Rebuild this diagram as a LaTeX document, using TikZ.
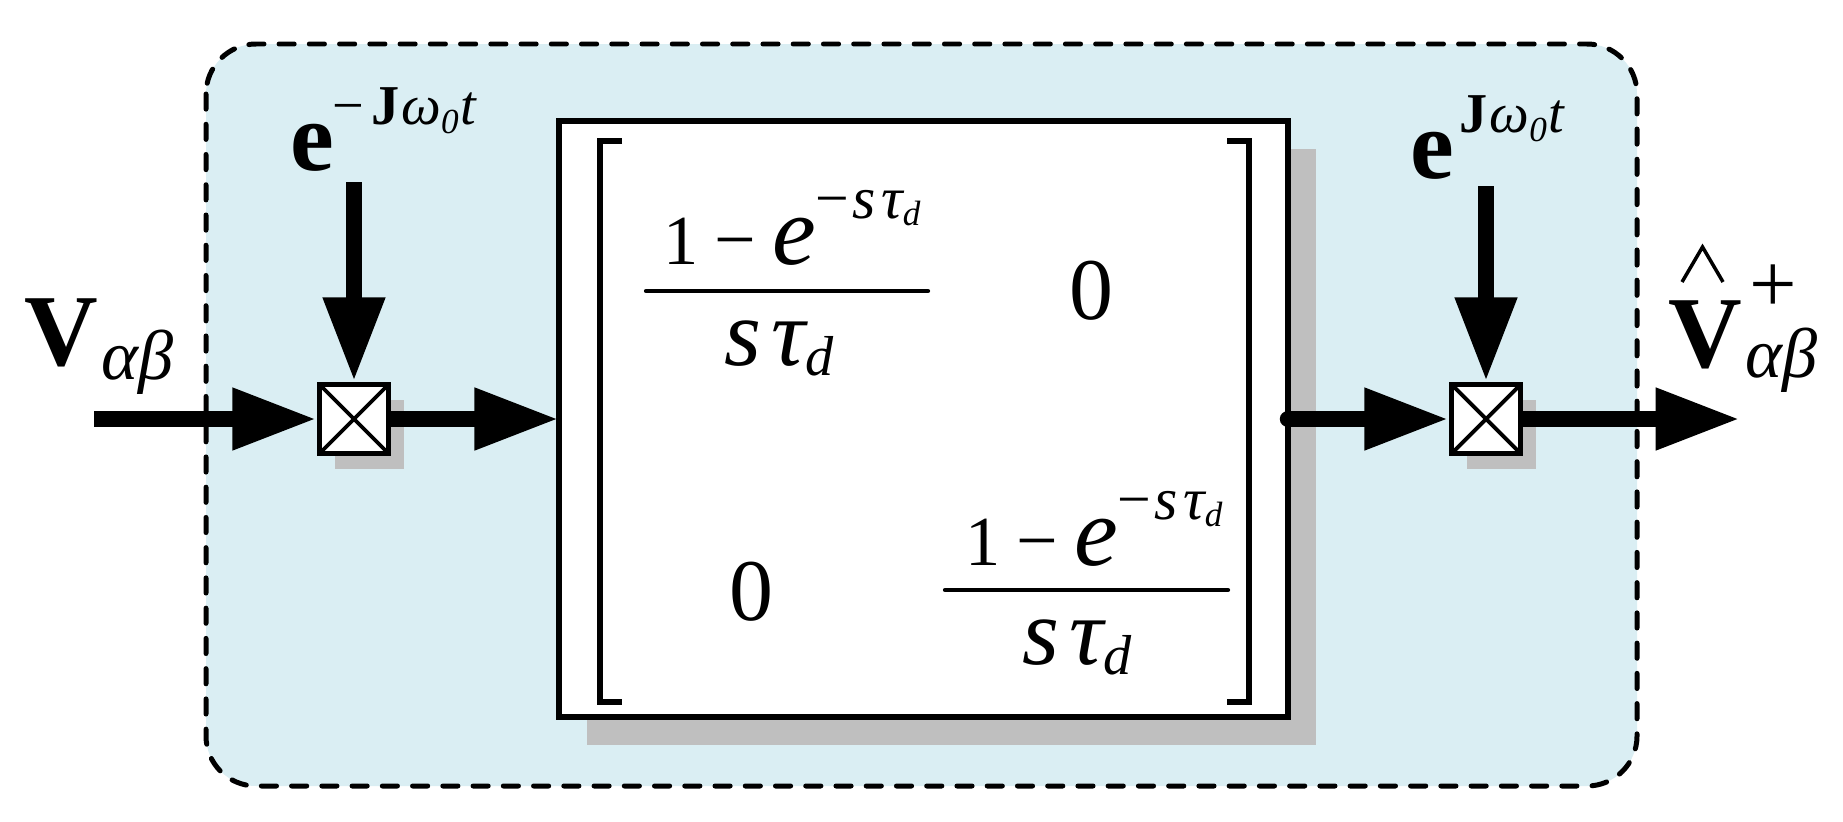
\documentclass[tikz,border=0pt]{standalone}
\usepackage{fontspec}
\setmainfont{Liberation Serif}
\usetikzlibrary{arrows.meta,shadows}

\definecolor{bgblue}{RGB}{218,238,243}
\definecolor{shadowgray}{RGB}{191,191,191}

\newcommand{\fsz}[1]{\fontsize{#1}{#1}\selectfont}
\newcommand{\lpf}{{\fsz{20}1}\hspace{4.5pt}{\fsz{21}−}\hspace{4.5pt}{\fsz{28}\itshape e}\raisebox{13pt}{\fsz{17}−\hspace{1pt}\itshape s\hspace{1.5pt}τ\raisebox{-2pt}{\fsz{10}d}}}
\newcommand{\lpd}{{\fsz{27}\itshape s\hspace{3pt}τ}\raisebox{-3pt}{\fsz{16}\itshape d}}

\tikzset{
    sig/.style={line width=4.8pt,-{Triangle[length=24pt,width=16.5pt]}},
    mult/.style={draw,line width=1.6pt,fill=white,minimum size=0.69cm,inner sep=0pt,
        drop shadow={shadow xshift=4.3pt,shadow yshift=-4.3pt,fill=shadowgray,opacity=1},
        path picture={\draw[line width=1.1pt]
            (path picture bounding box.north west) -- (path picture bounding box.south east)
            (path picture bounding box.north east) -- (path picture bounding box.south west);}},
    txt/.style={inner sep=0pt,anchor=base},
    bar/.style={line width=1.2pt,line cap=round}
}

\begin{document}
\begin{tikzpicture}[x=0.01cm,y=-0.01cm]
    \useasboundingbox (0,0) rectangle (1843,821);

    % dashed region
    \draw[fill=bgblue,line width=1.42pt,dash pattern=on 4.3pt off 4.3pt,line cap=round,rounded corners=0.5cm]
        (206,44) rectangle (1637,786);

    % filter matrix
    \node[draw,line width=1.7pt,fill=white,minimum width=7.29cm,minimum height=5.96cm,outer sep=0pt,
        drop shadow={shadow xshift=8pt,shadow yshift=-8pt,fill=shadowgray,opacity=1}] (filt) at (923.5,419) {};
    \draw[line width=1.6pt] (622,141) -- (600,141) -- (600,702) -- (622,702);
    \draw[line width=1.6pt] (1227,141) -- (1249,141) -- (1249,702) -- (1227,702);

    \node[txt] (n11) at (792,264) {\lpf};
    \draw[bar] (646,291) -- (928,291);
    \node[txt] (d11) at (779,365) {\lpd};
    \node[txt] (z12) at (1091,319) {\fsz{25}0};
    \node[txt] (z21) at (751,620) {\fsz{25}0};
    \node[txt] (n22) at (1094,565) {\lpf};
    \draw[bar] (945,590) -- (1228,590);
    \node[txt] (d22) at (1077,664) {\lpd};

    % multipliers
    \node[mult] (m1) at (354,419) {};
    \node[mult] (m2) at (1486,419) {};

    % labels
    \node[txt,anchor=base west] (vin) at (24,365) {{\fsz{29}\bfseries V}\raisebox{-4pt}{\fsz{20}\itshape\hspace{1pt}αβ}};
    \node[txt,anchor=base west] (ein) at (290,170) {{\fsz{28}\bfseries e}\raisebox{12.8pt}{\fsz{16}\hspace{-0.5pt}−\hspace{2pt}\textbf{J}\hspace{0.5pt}\textit{ω}\raisebox{-2.3pt}{\fsz{10}\itshape 0}\hspace{0.5pt}\textit{t}}};
    \node[txt,anchor=base west] (eout) at (1410,178) {{\fsz{28}\bfseries e}\raisebox{12.8pt}{\fsz{16}\hspace{1.5pt}\textbf{J}\hspace{0.5pt}\textit{ω}\raisebox{-2.3pt}{\fsz{10}\itshape 0}\hspace{0.5pt}\textit{t}}};
    \node[txt,anchor=base west] (vout) at (1668,367) {{\fsz{29}\bfseries V}\rlap{\raisebox{15.5pt}{\fsz{24}\hspace{2pt}+}}\raisebox{-3pt}{\fsz{20}\itshape\hspace{1pt}αβ}};
    \draw[line width=1pt] (1682,282) -- (1702.5,247) -- (1723,282);

    % signal path
    \coordinate (src) at (94,419);
    \coordinate (ein0) at (354,182);
    \coordinate (eout0) at (1486,186);
    \coordinate (dst) at (1740,419);
    \draw[sig] (src) -- (m1);
    \draw[sig] (ein0) -- (m1);
    \draw[sig] (m1) -- (filt);
    \draw[sig,line cap=round] (filt.east) -- (m2);
    \draw[sig] (eout0) -- (m2);
    \draw[sig] (m2) -- (dst);
\end{tikzpicture}
\end{document}
